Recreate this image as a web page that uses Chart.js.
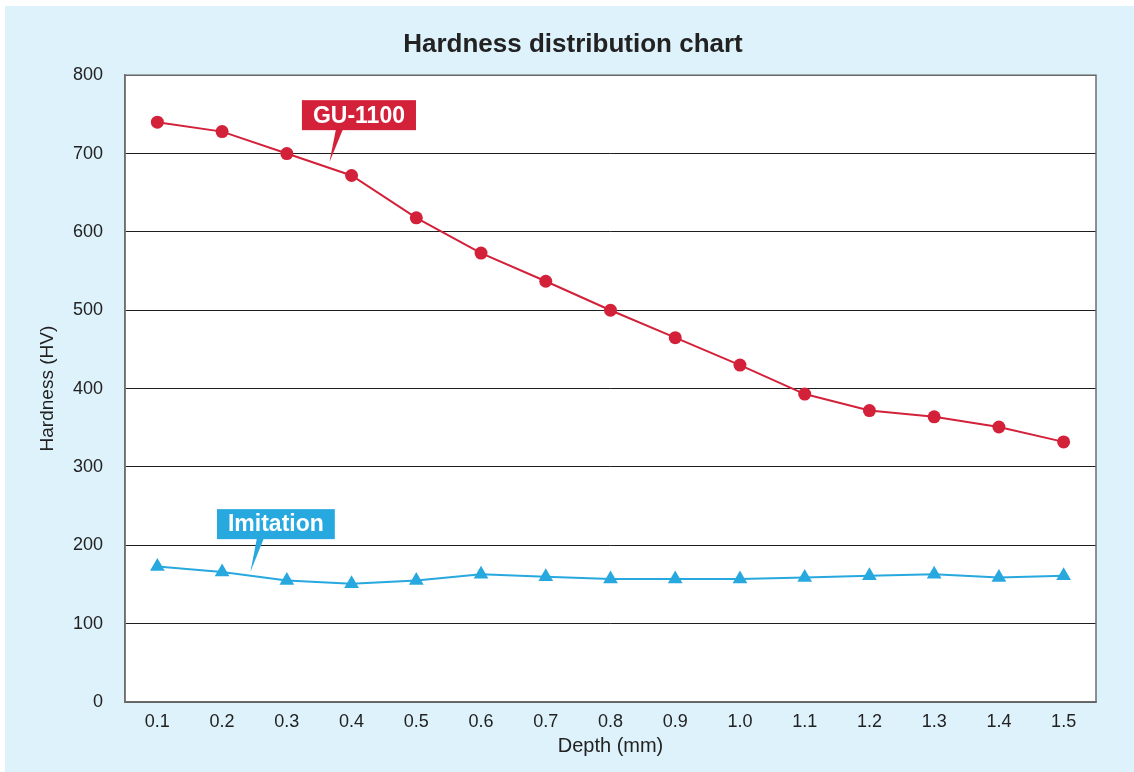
<!DOCTYPE html>
<html>
<head>
<meta charset="utf-8">
<script src="https://cdn.jsdelivr.net/npm/chart.js@4.4.1/dist/chart.umd.min.js"></script>
<style>
  html, body { margin: 0; padding: 0; background: #ffffff; }
  #wrap { position: absolute; left: 5px; top: 6px; width: 1129px; height: 766px; background: #def2fb; }
</style>
</head>
<body>
<div id="wrap"><canvas id="hardness"></canvas></div>
<script>
const depths = ['0.1', '0.2', '0.3', '0.4', '0.5', '0.6', '0.7', '0.8', '0.9', '1.0', '1.1', '1.2', '1.3', '1.4', '1.5'];
const gu1100 = [740, 728, 700, 672, 618, 573, 537, 500, 465, 430, 393, 372, 364, 351, 332];
const imitation = [173, 166, 155, 151, 155, 163, 160, 157, 157, 157, 159, 161, 163, 159, 161];
const yTicks = [0, 100, 200, 300, 400, 500, 600, 700, 800];

const RED = '#d3213a';
const BLUE = '#27a8df';

// white plot area + grey frame
const plotFrame = {
    id: 'plotFrame',
    beforeDraw(chart) {
        const a = chart.chartArea, c = chart.ctx;
        c.save();
        c.fillStyle = '#ffffff';
        c.fillRect(a.left, a.top, a.right - a.left, a.bottom - a.top);
        c.restore();
    },
    beforeDatasetsDraw(chart) {
        const a = chart.chartArea, c = chart.ctx;
        c.save();
        c.strokeStyle = '#6d6d6d';
        c.lineWidth = 1.5;
        c.strokeRect(a.left, a.top, a.right - a.left, a.bottom - a.top);
        c.restore();
    }
};

// series name boxes with pointer tails (x in category index units, y in HV)
const callouts = [
    { text: 'GU-1100', color: RED, box: [3.114, 749], tip: [2.658, 689], base: [-23, -16] },
    { text: 'Imitation', color: BLUE, box: [1.831, 227], tip: [1.437, 166], base: [-19, -12] }
];

const calloutPlugin = {
    id: 'callouts',
    afterDatasetsDraw(chart) {
        const c = chart.ctx, xs = chart.scales.x, ys = chart.scales.y;
        c.save();
        c.font = 'bold 23px "Liberation Sans", Arial, sans-serif';
        callouts.forEach(k => {
            const cx = xs.getPixelForValue(k.box[0]);
            const cy = ys.getPixelForValue(k.box[1]);
            const w = c.measureText(k.text).width + 22;
            const h = 30;
            const tx = xs.getPixelForValue(k.tip[0]);
            const ty = ys.getPixelForValue(k.tip[1]);
            c.fillStyle = k.color;
            c.fillRect(cx - w / 2, cy - h / 2, w, h);
            c.beginPath();
            c.moveTo(cx + k.base[0], cy + h / 2 - 1);
            c.lineTo(cx + k.base[1], cy + h / 2 - 1);
            c.lineTo(tx, ty);
            c.closePath();
            c.fill();
            c.fillStyle = '#ffffff';
            c.textAlign = 'center';
            c.textBaseline = 'middle';
            c.fillText(k.text, cx, cy + 1);
        });
        c.restore();
    }
};

Chart.defaults.font.family = '"Liberation Sans", Arial, sans-serif';
Chart.defaults.color = '#222222';

const ctx = document.getElementById('hardness').getContext('2d');

const hardnessChart = new Chart(ctx, {
    type: 'line',
    data: {
        labels: depths,
        datasets: [
            {
                label: 'GU-1100',
                data: gu1100,
                borderColor: RED,
                backgroundColor: RED,
                borderWidth: 2,
                pointStyle: 'circle',
                pointRadius: 6.5,
                pointBorderWidth: 0,
                tension: 0
            },
            {
                label: 'Imitation',
                data: imitation,
                borderColor: BLUE,
                backgroundColor: BLUE,
                borderWidth: 2,
                pointStyle: 'triangle',
                pointRadius: 8.5,
                pointBorderWidth: 0,
                tension: 0
            }
        ]
    },
    options: {
        responsive: true,
        maintainAspectRatio: false,
        animation: false,
        layout: { padding: { left: 7, right: 0 } },
        plugins: {
            legend: { display: false },
            tooltip: { enabled: false },
            title: {
                display: true,
                text: 'Hardness distribution chart',
                color: '#222222',
                font: { size: 26, weight: 'bold' },
                padding: { top: 23, bottom: 15 }
            }
        },
        scales: {
            x: {
                offset: true,
                grid: { display: false },
                border: { color: '#6d6d6d', width: 1.5 },
                ticks: { font: { size: 18 }, padding: 1, maxRotation: 0 },
                title: { display: true, text: 'Depth (mm)', font: { size: 20 }, padding: { top: 0, bottom: 14 } },
                afterFit(scale) { scale.height = 70; }
            },
            y: {
                min: 0,
                max: 800,
                afterBuildTicks(scale) { scale.ticks = yTicks.map(v => ({ value: v })); },
                grid: { color: '#1e1e1e', lineWidth: 1, drawTicks: false },
                border: { color: '#6d6d6d', width: 1.5 },
                ticks: { font: { size: 18 }, padding: 22 },
                title: { display: true, text: 'Hardness (HV)', font: { size: 19 }, padding: { top: 24, bottom: 0 } },
                afterFit(scale) { scale.width = 113; }
            },
            // empty right-hand margin so the plot ends where the reference does
            spacer: {
                type: 'linear',
                position: 'right',
                grid: { display: false },
                border: { display: false },
                ticks: { display: false },
                afterFit(scale) { scale.width = 38; }
            }
        }
    },
    plugins: [plotFrame, calloutPlugin]
});
</script>
</body>
</html>
